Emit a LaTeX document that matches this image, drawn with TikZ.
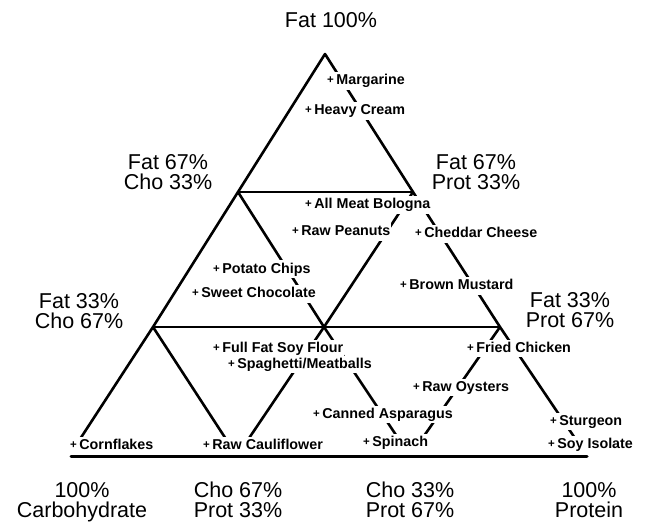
\documentclass[tikz,border=0pt]{standalone}
\usepackage{fontspec}
\setmainfont{Liberation Sans}
\usetikzlibrary{calc}
\newcommand\foodfont{\fontsize{14.3pt}{16pt}\selectfont\bfseries}
\newcommand\axisfont{\fontsize{21.5pt}{20pt}\selectfont}
\newcommand\fitem[1]{\raisebox{1pt}{\fontsize{11.5pt}{11.5pt}\selectfont\bfseries +}\hspace{2.5pt}#1}
\begin{document}
\begin{tikzpicture}[x=1pt,y=-1pt,
  edge/.style={line width=2.6pt, line cap=round},
  baseedge/.style={line width=3pt, line cap=round},
  food/.style={fill=white, inner xsep=1pt, inner ysep=2pt, anchor=base west,
               font=\foodfont, text height=10.5pt, text depth=3pt},
  axis/.style={align=center, font=\axisfont, anchor=base, inner sep=0pt}]
\useasboundingbox (0,0) rectangle (645,529);
% grid points
\coordinate (A)  at (325,54);
\coordinate (L1) at (238,192);
\coordinate (R1) at (413,192);
\coordinate (L2) at (153,327);
\coordinate (M2) at (324,327);
\coordinate (R2) at (500,327);
\coordinate (B0) at (69,456);
\coordinate (B1) at (237,456);
\coordinate (B2) at (410,456);
\coordinate (B3) at (587,456);
\coordinate (baseL) at (71,456);
\coordinate (baseR) at (587,456);
% lower ends, hidden under the bottom labels
\coordinate (e0)  at ($(L2)!0.88!(B0)$);
\coordinate (e1a) at ($(L2)!0.88!(B1)$);
\coordinate (e1b) at ($(M2)!0.88!(B1)$);
\coordinate (e2a) at ($(M2)!0.88!(B2)$);
\coordinate (e2b) at ($(R2)!0.88!(B2)$);
\coordinate (e3)  at ($(R2)!0.88!(B3)$);
% edges
\draw[edge] (A) -- (L1) -- (L2) -- (e0);
\draw[edge] (A) -- (R1) -- (R2) -- (e3);
\draw[edge] (L1) -- (R1);
\draw[edge] (L2) -- (R2);
\draw[edge] (L1) -- (M2) -- (e2a);
\draw[edge] (R1) -- (M2) -- (e1b);
\draw[edge] (L2) -- (e1a);
\draw[edge] (R2) -- (e2b);
% food labels
\node[food] (marg)     at (326,85)  {\fitem{Margarine}};
\node[food] (cream)    at (304,115) {\fitem{Heavy Cream}};
\node[food] (bologna)  at (304,209) {\fitem{All Meat Bologna}};
\node[food] (peanut)   at (291,236) {\fitem{Raw Peanuts}};
\node[food] (cheddar)  at (414,238) {\fitem{Cheddar Cheese}};
\node[food] (chips)    at (212,273) {\fitem{Potato Chips}};
\node[food] (choc)     at (191,298) {\fitem{Sweet Chocolate}};
\node[food] (mustard)  at (399,290) {\fitem{Brown Mustard}};
\node[food] (chicken)  at (466,352) {\fitem{Fried Chicken}};
\node[food] (soyflour) at (212,352) {\fitem{Full Fat Soy Flour}};
\node[food] (spag)     at (227,368) {\fitem{Spaghetti/Meatballs}};
\node[food] (oyster)   at (412,391) {\fitem{Raw Oysters}};
\node[food] (aspar)    at (312,418) {\fitem{Canned Asparagus}};
\node[food] (sturgeon) at (549,425) {\fitem{Sturgeon}};
\node[food] (spinach)  at (362,446) {\fitem{Spinach}};
\node[food] (soyiso)   at (547,448) {\fitem{Soy Isolate}};
\node[food] (corn)     at (69,449)  {\fitem{Cornflakes}};
\node[food] (cauli)    at (202,449) {\fitem{Raw Cauliflower}};
% base line
\draw[baseedge] (baseL) -- (baseR);
% axis labels (anchor = baseline of the last line)
\node[axis] (top)   at (331,28)  {Fat 100\%};
\node[axis] (fc1)   at (168,190) {Fat 67\%\\Cho 33\%};
\node[axis] (fp1)   at (476,190) {Fat 67\%\\Prot 33\%};
\node[axis] (fc2)   at (79,328)  {Fat 33\%\\Cho 67\%};
\node[axis] (fp2)   at (570,327) {Fat 33\%\\Prot 67\%};
\node[axis] (carb)  at (82,517)  {100\%\\Carbohydrate};
\node[axis] (cp1)   at (238,517) {Cho 67\%\\Prot 33\%};
\node[axis] (cp2)   at (410,517) {Cho 33\%\\Prot 67\%};
\node[axis] (prot)  at (589,517) {100\%\\Protein};
\end{tikzpicture}
\end{document}
